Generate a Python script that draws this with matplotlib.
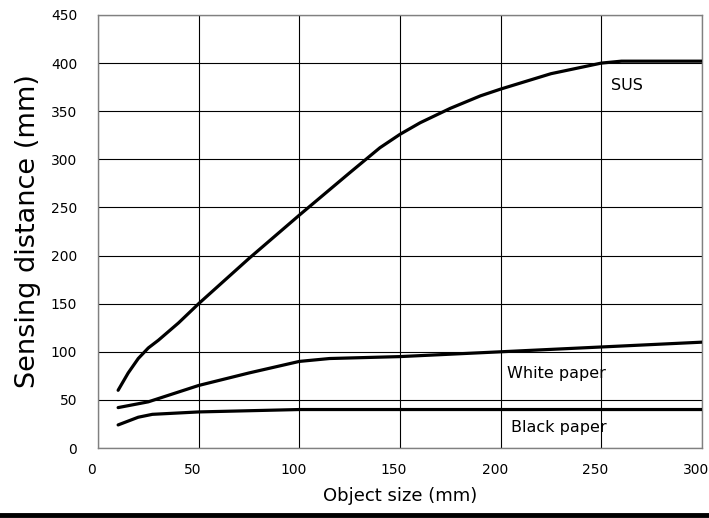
import matplotlib.pyplot as plt
from matplotlib.lines import Line2D
from matplotlib.transforms import ScaledTranslation

# values
sus_x = [10, 15, 20, 25, 30, 40, 50, 75, 100, 125, 140, 150, 160, 175, 190, 200, 225, 250, 260, 275, 300]
sus_y = [60, 78, 93, 104, 112, 130, 150, 197, 242, 286, 312, 326, 338, 353, 366, 373, 389, 400, 402, 402, 402]

white_x = [10, 25, 50, 75, 100, 115, 150, 200, 250, 300]
white_y = [42, 48, 65, 78, 90, 93, 95, 100, 105, 110]

black_x = [10, 20, 27, 50, 100, 300]
black_y = [24, 32, 35, 37.5, 40, 40]

x_ticks = [0, 50, 100, 150, 200, 250, 300]
y_ticks = [0, 50, 100, 150, 200, 250, 300, 350, 400, 450]

fig = plt.figure(figsize=(7.09, 5.18), dpi=100)
fig.patch.set_facecolor('white')
ax = fig.add_axes([0.1382, 0.1351, 0.852, 0.836])

for xs, ys in [(sus_x, sus_y), (white_x, white_y), (black_x, black_y)]:
    ax.plot(xs, ys, color='black', lw=2.3, solid_capstyle='round',
            solid_joinstyle='round', zorder=3)

ax.set_xlim(0, 300)
ax.set_ylim(0, 450)
ax.set_xticks(x_ticks)
ax.set_yticks(y_ticks)
ax.grid(True, color='black', lw=0.8)
ax.tick_params(length=0, labelsize=10)
ax.tick_params(axis='x', pad=11)
ax.tick_params(axis='y', pad=15)
for sp in ax.spines.values():
    sp.set_color('#808080')
    sp.set_linewidth(1.0)

shift = ScaledTranslation(-6 / 100, 0, fig.dpi_scale_trans)
for lab in ax.get_xticklabels():
    lab.set_transform(lab.get_transform() + shift)

ax.text(255, 377, 'SUS', fontsize=11.5, va='center', ha='left')
ax.text(203, 77, 'White paper', fontsize=11.5, va='center', ha='left')
ax.text(205, 21, 'Black paper', fontsize=11.5, va='center', ha='left')

ax.set_xlabel('Object size (mm)', fontsize=13, labelpad=7)
ax.set_ylabel('Sensing distance (mm)', fontsize=19.5, labelpad=7)

fig.add_artist(Line2D([0, 1], [0.006, 0.006], transform=fig.transFigure,
                      color='black', lw=3.5))

fig.savefig('out.png', dpi=100)
